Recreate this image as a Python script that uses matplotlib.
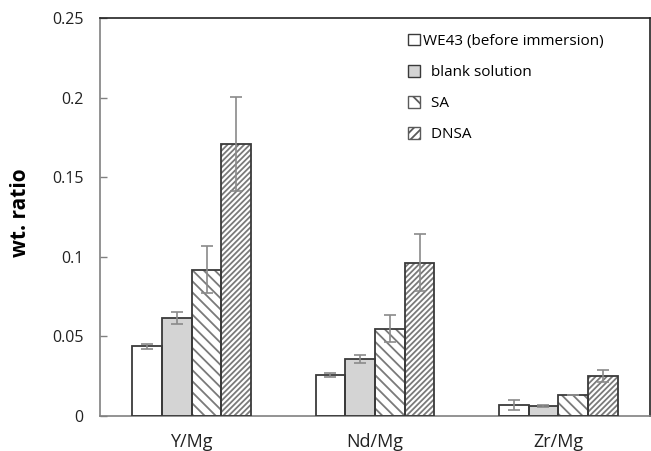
import numpy as np
import matplotlib
matplotlib.use("Agg")
import matplotlib.pyplot as plt
from matplotlib.patches import Patch

plt.rcParams['font.family'] = ['Open Sans', 'DejaVu Sans']

groups = ["Y/Mg", "Nd/Mg", "Zr/Mg"]
series = ["WE43 (before immersion)", "blank solution", "SA", "DNSA"]
we43 = [0.0437, 0.0258, 0.0068]
we43_err = [0.0018, 0.0012, 0.0030]
blank = [0.0616, 0.0356, 0.0063]
blank_err = [0.0040, 0.0026, 0.0008]
sa = [0.0918, 0.0547, 0.0133]
sa_err = [0.0148, 0.0085, 0.0]
dnsa = [0.1707, 0.0963, 0.0253]
dnsa_err = [0.0296, 0.0180, 0.0037]
yticks = [0, 0.05, 0.1, 0.15, 0.2, 0.25]
ytick_labels = ["0", "0.05", "0.1", "0.15", "0.2", "0.25"]

values = [we43, blank, sa, dnsa]
errors = [we43_err, blank_err, sa_err, dnsa_err]
fills = ["white", "#d4d4d4", "white", "white"]
hatches = [None, None, "\\\\\\", "//////"]

fig = plt.figure(figsize=(6.51, 4.51), dpi=100)
ax = fig.add_axes([100/651, 35/451, 550/651, 398/451])

x = np.arange(len(groups))
w = 0.162
edge = "#3a3a3a"
plt.rcParams['hatch.linewidth'] = 1.3
for i in range(4):
    pos = x + (i - 1.5) * w
    # fill + hatch pass (hatch drawn grey), then the dark outline
    ax.bar(pos, values[i], w, color=fills[i], hatch=hatches[i], edgecolor="#7a7a7a", linewidth=0, zorder=2)
    ax.bar(pos, values[i], w, fill=False, edgecolor=edge, linewidth=1.3, zorder=3)
    ax.errorbar(pos, values[i], yerr=errors[i], fmt="none", ecolor="#8a8a8a", elinewidth=1.2, capsize=4, capthick=1.2, zorder=4)

ax.set_xlim(-0.5, 2.5)
ax.set_ylim(0, 0.25)
ax.set_yticks(yticks)
ax.set_yticklabels(ytick_labels)
ax.set_xticks(x)
ax.set_xticklabels(groups, fontsize=13)
ax.tick_params(axis='x', length=0, pad=12, colors="#222222")
ax.tick_params(axis='y', direction='in', length=5, width=1, color="#808080", labelsize=11.5, pad=12, labelcolor="#222222")
for s in ["top", "right"]:
    ax.spines[s].set_color("#222222")
    ax.spines[s].set_linewidth(1.2)
for s in ["left", "bottom"]:
    ax.spines[s].set_color("#808080")
    ax.spines[s].set_linewidth(1.2)
ax.set_ylabel("wt. ratio", fontsize=15, fontweight="bold")
ax.yaxis.set_label_coords(-0.125, 0.51)

handles = [
    Patch(facecolor="white", edgecolor=edge, linewidth=1),
    Patch(facecolor="#d4d4d4", edgecolor=edge, linewidth=1),
    Patch(facecolor="white", edgecolor="#5a5a5a", hatch="\\\\", linewidth=1),
    Patch(facecolor="white", edgecolor="#5a5a5a", hatch="////", linewidth=1),
]
labels = [series[0]] + ["  " + s for s in series[1:]]
ax.legend(handles, labels, loc="upper left", bbox_to_anchor=(0.535, 0.995), frameon=False,
          fontsize=11, handlelength=0.8, handleheight=0.8, handletextpad=0.2, labelspacing=1.05)

fig.savefig("out.png", dpi=100)
